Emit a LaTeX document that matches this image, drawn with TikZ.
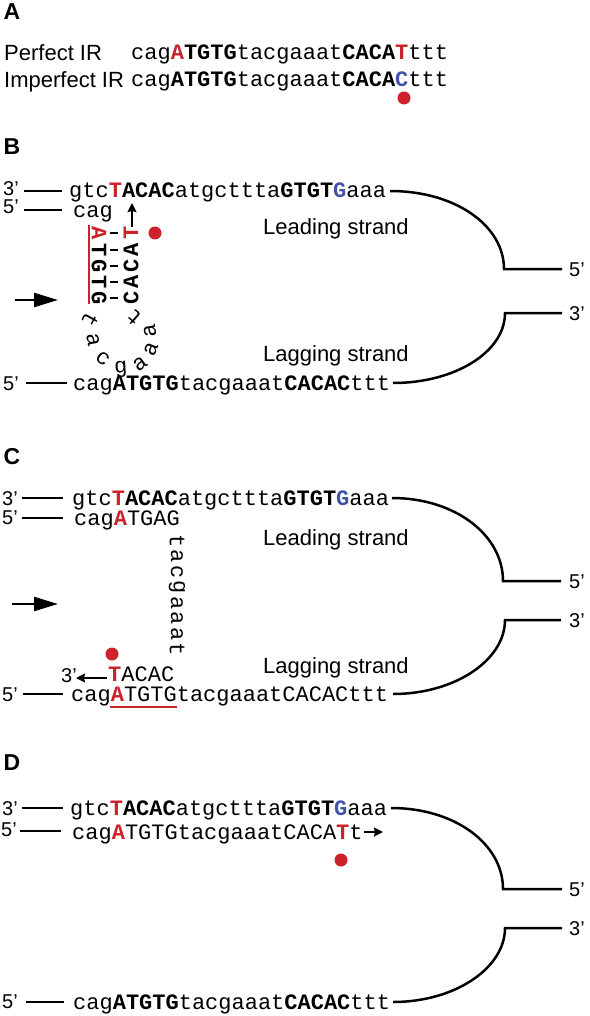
\documentclass[tikz,border=0pt]{standalone}
\usepackage{fontspec}
\usetikzlibrary{arrows.meta}
\newfontfamily\monof{Liberation Mono}
\newfontfamily\sansf{Liberation Sans}
\definecolor{myred}{RGB}{204,34,44}
\definecolor{myblue}{RGB}{66,82,168}
\newcommand\seqfont{\monof\fontsize{22}{26}\selectfont}
\newcommand\labfont{\sansf\fontsize{22}{26}\selectfont}
\newcommand\primefont{\sansf\fontsize{20}{24}\selectfont}
\newcommand\panelfont{\sansf\bfseries\fontsize{23}{26}\selectfont}
\newcommand\Rd[1]{{\color{myred}\bfseries #1}}
\newcommand\Bl[1]{{\color{myblue}\bfseries #1}}
\newcommand\Cp[1]{{\bfseries #1}}
\tikzset{
  seq/.style={font=\seqfont, inner sep=0pt, anchor=base west},
  lab/.style={font=\labfont, inner sep=0pt, anchor=base west},
  prime/.style={font=\primefont, inner sep=0pt, anchor=base west},
  panel/.style={font=\panelfont, inner sep=0pt},
  hp/.style={font=\seqfont\bfseries, inner sep=0pt},
  loopl/.style={font=\seqfont, inner sep=0pt},
  strand/.style={line width=2.5pt, line cap=butt},
  pairdash/.style={line width=1.8pt, line cap=butt},
  reddot/.style={circle, fill=myred, minimum size=13pt, inner sep=0pt},
  bigarrow/.style={line width=2.2pt, -{Triangle[length=24pt,width=14pt]}},
  smallarrow/.style={line width=1.8pt, -{Stealth[length=9pt,width=9pt,inset=1pt]}},
  redline/.style={myred, line width=1.3pt},
}
\begin{document}
\begin{tikzpicture}[x=1pt,y=-1pt]
\useasboundingbox (0,0) rectangle (589,1016);

% ---------------- Panel A
\node[panel] (labA) at (12,12) {A};
\node[lab] (pIR) at (4,61) {Perfect IR};
\node[lab] (iIR) at (4,88) {Imperfect IR};
\node[seq] (sA1) at (131,60) {cag\Rd{A}\Cp{TGTG}tacgaaat\Cp{CACA}\Rd{T}ttt};
\node[seq] (sA2) at (131,87) {cag\Cp{ATGTG}tacgaaat\Cp{CACA}\Bl{C}ttt};
\node[reddot] (dA) at (404,98) {};

% ---------------- Panel B
\node[panel] (labB) at (12,147) {B};
\node[prime] (b3) at (3,196) {3’};
\node[prime] (b5) at (3,214) {5’};
\coordinate (b3s) at (24,191); \coordinate (b3e) at (62,191);
\coordinate (b5s) at (24,210); \coordinate (b5e) at (62,210);
\draw[strand] (b3s) -- (b3e);
\draw[strand] (b5s) -- (b5e);
\node[seq] (bTop) at (69,198) {gtc\Rd{T}\Cp{ACAC}atgcttta\Cp{GTGT}\Bl{G}aaa};
\node[seq] (bCag) at (73,218) {cag};
\coordinate (bUa) at (132,227); \coordinate (bUb) at (132,203);
\draw[smallarrow] (bUa) -- (bUb);
% hairpin stem
\node[hp, rotate=-90] (hL1) at (99,233) {\Rd{A}};
\node[hp, rotate=-90] (hL2) at (99,250) {T};
\node[hp, rotate=-90] (hL3) at (99,266) {G};
\node[hp, rotate=-90] (hL4) at (99,282) {T};
\node[hp, rotate=-90] (hL5) at (99,298) {G};
\foreach \yy [count=\k] in {233,250,266,282,298}{
  \coordinate (pd\k a) at (110,\yy); \coordinate (pd\k b) at (118,\yy);
  \draw[pairdash] (pd\k a) -- (pd\k b);
}
\node[hp, rotate=90] (hR1) at (131,233) {\Rd{T}};
\node[hp, rotate=90] (hR2) at (131,250) {A};
\node[hp, rotate=90] (hR3) at (131,266) {C};
\node[hp, rotate=90] (hR4) at (131,282) {A};
\node[hp, rotate=90] (hR5) at (131,298) {C};
\coordinate (bRl1) at (89,225); \coordinate (bRl2) at (89,304);
\draw[redline] (bRl1) -- (bRl2);
\node[reddot] (dB) at (155,233) {};
% loop
\node[loopl, rotate=242] (lp1) at (90,320) {t};
\node[loopl, rotate=280] (lp2) at (93,340) {a};
\node[loopl, rotate=324] (lp3) at (103,359) {c};
\node[loopl, rotate=4]   (lp4) at (121,369) {g};
\node[loopl, rotate=36]  (lp5) at (140,364) {a};
\node[loopl, rotate=68]  (lp6) at (151,349) {a};
\node[loopl, rotate=98]  (lp7) at (150,331) {a};
\node[loopl, rotate=139] (lp8) at (134,318) {t};
\coordinate (bAs) at (15,300); \coordinate (bAe) at (58,300);
\draw[bigarrow] (bAs) -- (bAe);
\node[lab] (bLead) at (263,235) {Leading strand};
\node[lab] (bLag) at (263,361) {Lagging strand};
\node[prime] (b5b) at (3,390) {5’};
\coordinate (bBs) at (26,383); \coordinate (bBe) at (67,383);
\draw[strand] (bBs) -- (bBe);
\node[seq] (bBot) at (73,390) {cag\Cp{ATGTG}tacgaaat\Cp{CACAC}ttt};
\coordinate (bT) at (390,191); \coordinate (bF1) at (504,269); \coordinate (bF1e) at (562,269);
\coordinate (bF2e) at (562,313); \coordinate (bF2) at (505,313); \coordinate (bB) at (393,383);
\draw[strand] (bT) .. controls (456,191) and (504,226) .. (bF1) -- (bF1e);
\draw[strand] (bF2e) -- (bF2) .. controls (505,352) and (455,383) .. (bB);
\node[prime, anchor=west] (bR5) at (569,270) {5’};
\node[prime, anchor=west] (bR3) at (569,314) {3’};

% ---------------- Panel C
\node[panel] (labC) at (12,457) {C};
\node[prime] (c3) at (2,505) {3’};
\node[prime] (c5) at (2,524) {5’};
\coordinate (c3s) at (22,498); \coordinate (c3e) at (63,498);
\coordinate (c5s) at (22,518); \coordinate (c5e) at (63,518);
\draw[strand] (c3s) -- (c3e);
\draw[strand] (c5s) -- (c5e);
\node[seq] (cTop) at (72,505) {gtc\Rd{T}\Cp{ACAC}atgcttta\Cp{GTGT}\Bl{G}aaa};
\node[seq] (cCag) at (74,525) {cag\Rd{A}TGAG};
\node[loopl, rotate=-90] (cv1) at (177,541) {t};
\node[loopl, rotate=-90] (cv2) at (177,556) {a};
\node[loopl, rotate=-90] (cv3) at (177,572) {c};
\node[loopl, rotate=-90] (cv4) at (177,587) {g};
\node[loopl, rotate=-90] (cv5) at (177,603) {a};
\node[loopl, rotate=-90] (cv6) at (177,618) {a};
\node[loopl, rotate=-90] (cv7) at (177,634) {a};
\node[loopl, rotate=-90] (cv8) at (177,649) {t};
\coordinate (cAs) at (12,604); \coordinate (cAe) at (58,604);
\draw[bigarrow] (cAs) -- (cAe);
\node[reddot] (dC) at (112,654) {};
\node[prime] (c3n) at (61,682) {3’};
\coordinate (cNa) at (107,678); \coordinate (cNb) at (76,678);
\draw[smallarrow] (cNa) -- (cNb);
\node[seq] (cTac) at (108,681) {\Rd{T}ACAC};
\node[lab] (cLead) at (263,545) {Leading strand};
\node[lab] (cLag) at (263,673) {Lagging strand};
\node[prime] (c5b) at (2,701) {5’};
\coordinate (cBs) at (23,694); \coordinate (cBe) at (63,694);
\draw[strand] (cBs) -- (cBe);
\node[seq] (cBot) at (71,701) {cag\Rd{A}TGTGtacgaaatCACACttt};
\coordinate (cUl1) at (110,707); \coordinate (cUl2) at (177,707);
\draw[redline] (cUl1) -- (cUl2);
\coordinate (cT) at (392,498); \coordinate (cF1) at (503,581); \coordinate (cF1e) at (561,581);
\coordinate (cF2e) at (561,620); \coordinate (cF2) at (505,620); \coordinate (cB) at (393,694);
\draw[strand] (cT) .. controls (455,498) and (503,535) .. (cF1) -- (cF1e);
\draw[strand] (cF2e) -- (cF2) .. controls (505,660) and (455,694) .. (cB);
\node[prime, anchor=west] (cR5) at (569,582) {5’};
\node[prime, anchor=west] (cR3) at (569,621) {3’};

% ---------------- Panel D
\node[panel] (labD) at (12,763) {D};
\node[prime] (d3) at (2,815) {3’};
\node[prime] (d5) at (1,836) {5’};
\coordinate (d3s) at (22,808); \coordinate (d3e) at (63,808);
\coordinate (d5s) at (20,831); \coordinate (d5e) at (61,831);
\draw[strand] (d3s) -- (d3e);
\draw[strand] (d5s) -- (d5e);
\node[seq] (dTop) at (70,815) {gtc\Rd{T}\Cp{ACAC}atgcttta\Cp{GTGT}\Bl{G}aaa};
\node[seq] (dNew) at (72,839) {cag\Rd{A}TGTGtacgaaatCACA\Rd{T}t};
\coordinate (dNa) at (364,832); \coordinate (dNb) at (383,832);
\draw[smallarrow] (dNa) -- (dNb);
\node[reddot] (dD) at (341,860) {};
\node[prime] (d5b) at (2,1008) {5’};
\coordinate (dBs) at (26,1002); \coordinate (dBe) at (64,1002);
\draw[strand] (dBs) -- (dBe);
\node[seq] (dBot) at (73,1009) {cag\Cp{ATGTG}tacgaaat\Cp{CACAC}ttt};
\coordinate (dT) at (391,808); \coordinate (dF1) at (503,889); \coordinate (dF1e) at (562,889);
\coordinate (dF2e) at (562,928); \coordinate (dF2) at (505,928); \coordinate (dB) at (393,1002);
\draw[strand] (dT) .. controls (455,808) and (503,844) .. (dF1) -- (dF1e);
\draw[strand] (dF2e) -- (dF2) .. controls (505,968) and (455,1002) .. (dB);
\node[prime, anchor=west] (dR5) at (569,890) {5’};
\node[prime, anchor=west] (dR3) at (569,929) {3’};
\end{tikzpicture}
\end{document}
